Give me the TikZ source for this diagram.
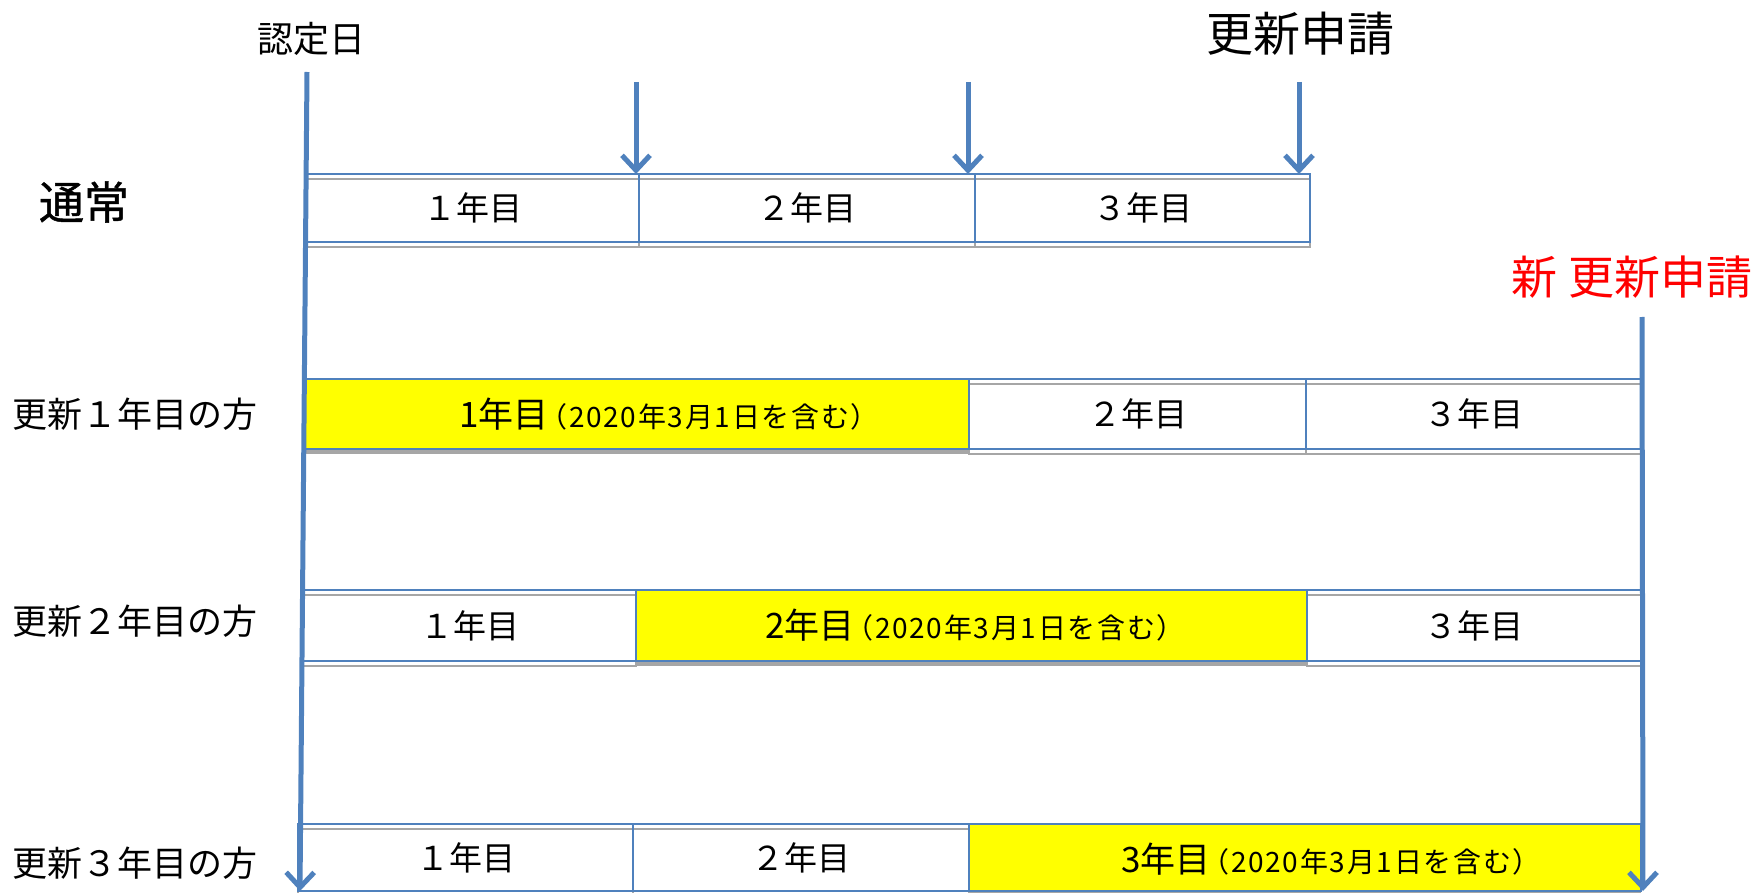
\documentclass[tikz,border=0pt]{standalone}
\usepackage{fontspec}
\setmainfont{Noto Sans CJK JP}
\newfontfamily\jpbold{Noto Sans CJK JP}[FakeBold=1]
\usetikzlibrary{arrows.meta,shadows}
\definecolor{lineblue}{HTML}{4F81BD}
\definecolor{shadowgray}{HTML}{A6A6A6}
\definecolor{hiyellow}{HTML}{FFFF00}
\definecolor{newred}{HTML}{FF0000}
\newcommand\yrlab[1]{{\fontsize{35}{35}\selectfont #1年目}\hspace{-9pt}{\fontsize{28}{28}\selectfont\addfontfeature{LetterSpace=6}（2020年3月1日を含む）}}
\begin{document}
\begin{tikzpicture}[x=1pt,y=-1pt,
  cell/.style={draw=lineblue, line width=1.8pt, inner sep=0pt, font=\fontsize{33}{33}\selectfont,
     general shadow={shadow yshift=-5pt, draw=shadowgray, line width=2pt}},
  ycell/.style={draw=lineblue, line width=1.8pt, fill=hiyellow, inner sep=0pt,
     general shadow={shadow yshift=-5pt, fill=shadowgray}},
  ylab/.style={inner sep=0pt},
  side/.style={anchor=west, inner sep=0pt, font=\fontsize{35}{35}\selectfont},
  bigarrow/.style={draw=lineblue, line width=5pt, -{Straight Barb[length=15pt,width=28pt]}},
]
\useasboundingbox (0,0) rectangle (1762,893);

% row 0
\node[cell, minimum width=333pt, minimum height=68pt] (n1) at (472.5,208) {１年目};
\node[cell, minimum width=336pt, minimum height=68pt] (n2) at (807,208) {２年目};
\node[cell, minimum width=335pt, minimum height=68pt] (n3) at (1142.5,208) {３年目};

% row 1
\node[ycell, minimum width=666pt, minimum height=70pt] (a1) at (636,414) {};
\node[ylab] (a1t) at (669,414) {\yrlab{1}};
\node[cell, minimum width=337pt, minimum height=70pt] (a2) at (1137.5,414) {２年目};
\node[cell, minimum width=335pt, minimum height=70pt] (a3) at (1473.5,414) {３年目};

% row 2
\node[cell, minimum width=333pt, minimum height=71pt] (b1) at (469.5,625.5) {１年目};
\node[ycell, minimum width=671pt, minimum height=71pt] (b2) at (971.5,625.5) {};
\node[ylab] (b2t) at (975,625.5) {\yrlab{2}};
\node[cell, minimum width=334pt, minimum height=71pt] (b3) at (1474,625.5) {３年目};

% row 3
\node[cell, minimum width=335pt, minimum height=67pt] (c1) at (465.5,857.5) {１年目};
\node[cell, minimum width=336pt, minimum height=67pt] (c2) at (801,857.5) {２年目};
\node[ycell, minimum width=672pt, minimum height=67pt] (c3) at (1305,857.5) {};
\node[ylab] (c3t) at (1331,859) {\yrlab{3}};

% labels
\node[inner sep=0pt, font=\fontsize{36}{36}\selectfont] (nintei) at (311,39) {認定日};
\node[inner sep=0pt, font=\fontsize{47}{47}\selectfont] (koushin) at (1300,34) {更新申請};
\node[inner sep=0pt, text=newred, font=\fontsize{46}{46}\selectfont] (shin) at (1632,277) {新 更新申請};
\node[inner sep=0pt, font=\fontsize{45}{45}\jpbold] (tsujo) at (84,202) {通常};
\node[side] (l1) at (12,414) {更新１年目の方};
\node[side] (l2) at (12,621) {更新２年目の方};
\node[side] (l3) at (12,863) {更新３年目の方};

% vertical lines
\coordinate (ltop) at (307,72);
\coordinate (lbot) at (300,891);
\coordinate (rtop) at (1642,317);
\coordinate (rbot) at (1643,891);
\draw[bigarrow] (ltop) -- (lbot);
\draw[bigarrow] (rtop) -- (rbot);

% arrows row 0
\coordinate (p1s) at (636,82);  \coordinate (p1e) at (636,174);
\coordinate (p2s) at (968,82);  \coordinate (p2e) at (968,174);
\coordinate (p3s) at (1299,82); \coordinate (p3e) at (1299,174);
\draw[bigarrow] (p1s) -- (p1e);
\draw[bigarrow] (p2s) -- (p2e);
\draw[bigarrow] (p3s) -- (p3e);
\end{tikzpicture}
\end{document}
